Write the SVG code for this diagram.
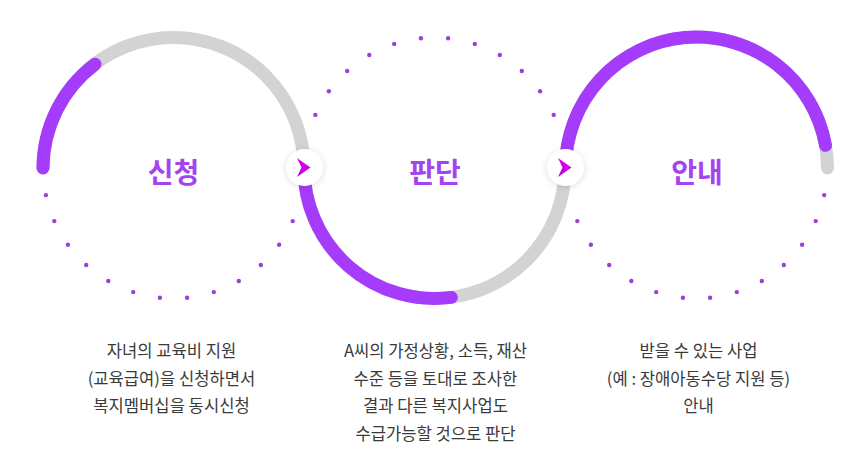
<svg xmlns="http://www.w3.org/2000/svg" width="855" height="468" viewBox="0 0 855 468">
<style>
.gray{fill:none;stroke:#d3d3d5;stroke-width:13;stroke-linecap:round}
.pur{fill:none;stroke:#a53bfb;stroke-width:13;stroke-linecap:round}
.dot{fill:#9b3fd8}
.title{font-family:"Noto Sans CJK KR","Noto Sans",sans-serif;font-size:28px;font-weight:700;fill:#a245f0;text-anchor:middle}
.desc{font-family:"Noto Sans CJK KR","Noto Sans",sans-serif;font-size:16.6px;fill:#3a3a3a;text-anchor:middle}
.btn{fill:#fff;filter:url(#sh)}
.arr{fill:url(#ag)}
</style>
<defs>
<filter id="sh" x="-50%" y="-50%" width="200%" height="200%">
<feDropShadow dx="0" dy="1" stdDeviation="3" flood-color="#000" flood-opacity="0.15"/>
</filter>
<linearGradient id="ag" x1="0" y1="0" x2="0" y2="1">
<stop offset="0" stop-color="#e800e8"/>
<stop offset="1" stop-color="#b400e6"/>
</linearGradient>
</defs>
<g id="dots">
<g id="dots1">
<circle class="dot" cx="292.7" cy="221.1" r="2.2"/><circle class="dot" cx="279.1" cy="244.7" r="2.2"/><circle class="dot" cx="260.8" cy="265" r="2.2"/><circle class="dot" cx="238.8" cy="281" r="2.2"/><circle class="dot" cx="213.8" cy="292.1" r="2.2"/><circle class="dot" cx="187.1" cy="297.8" r="2.2"/><circle class="dot" cx="159.9" cy="297.8" r="2.2"/><circle class="dot" cx="133.2" cy="292.1" r="2.2"/><circle class="dot" cx="108.3" cy="281" r="2.2"/><circle class="dot" cx="86.2" cy="265" r="2.2"/><circle class="dot" cx="67.9" cy="244.7" r="2.2"/><circle class="dot" cx="54.3" cy="221.1" r="2.2"/><circle class="dot" cx="45.9" cy="195.1" r="2.2"/>
</g>
<g id="dots2">
<circle class="dot" cx="553.7" cy="114.9" r="2.2"/><circle class="dot" cx="540.1" cy="91.3" r="2.2"/><circle class="dot" cx="521.8" cy="71" r="2.2"/><circle class="dot" cx="499.8" cy="55" r="2.2"/><circle class="dot" cx="474.8" cy="43.9" r="2.2"/><circle class="dot" cx="448.1" cy="38.2" r="2.2"/><circle class="dot" cx="420.9" cy="38.2" r="2.2"/><circle class="dot" cx="394.2" cy="43.9" r="2.2"/><circle class="dot" cx="369.3" cy="55" r="2.2"/><circle class="dot" cx="347.2" cy="71" r="2.2"/><circle class="dot" cx="328.9" cy="91.3" r="2.2"/><circle class="dot" cx="315.3" cy="114.9" r="2.2"/>
</g>
<g id="dots3">
<circle class="dot" cx="824.2" cy="195.1" r="2.2"/><circle class="dot" cx="815.7" cy="221.1" r="2.2"/><circle class="dot" cx="802.1" cy="244.7" r="2.2"/><circle class="dot" cx="783.8" cy="265" r="2.2"/><circle class="dot" cx="761.8" cy="281" r="2.2"/><circle class="dot" cx="736.8" cy="292.1" r="2.2"/><circle class="dot" cx="710.1" cy="297.8" r="2.2"/><circle class="dot" cx="682.9" cy="297.8" r="2.2"/><circle class="dot" cx="656.2" cy="292.1" r="2.2"/><circle class="dot" cx="631.3" cy="281" r="2.2"/><circle class="dot" cx="609.2" cy="265" r="2.2"/><circle class="dot" cx="590.9" cy="244.7" r="2.2"/><circle class="dot" cx="577.3" cy="221.1" r="2.2"/>
</g>
</g>
<g id="connectors">
<path class="gray" d="M 43 168 A 130.5 130.5 0 0 1 304 168"/>
<path class="pur" d="M 43 168 A 130.5 130.5 0 0 1 95 64.2"/>
<path class="gray" d="M 304 168 A 130.5 130.5 0 0 0 565 168"/>
<path class="pur" d="M 304 168 A 130.5 130.5 0 0 0 451.3 297.4"/>
<path class="gray" d="M 565.5 168 A 131 131 0 0 1 827.5 168"/>
<path class="pur" d="M 565.5 168 A 131 131 0 0 1 825.5 145.3"/>
</g>
<g id="step1">
<text class="title" x="173.5" y="183">신청</text>
<text class="desc" x="171.5" y="356.5">자녀의 교육비 지원</text>
<text class="desc" x="171.5" y="384.5">(교육급여)을 신청하면서</text>
<text class="desc" x="171.5" y="412">복지멤버십을 동시신청</text>
</g>
<g id="step2">
<text class="title" x="435" y="183">판단</text>
<text class="desc" x="435.5" y="356.5">A씨의 가정상황, 소득, 재산</text>
<text class="desc" x="435.5" y="384.5">수준 등을 토대로 조사한</text>
<text class="desc" x="435.5" y="412">결과 다른 복지사업도</text>
<text class="desc" x="435.5" y="439.5">수급가능할 것으로 판단</text>
</g>
<g id="step3">
<text class="title" x="697" y="183">안내</text>
<text class="desc" x="698.5" y="356.5">받을 수 있는 사업</text>
<text class="desc" x="698.5" y="384.5">(예 : 장애아동수당 지원 등)</text>
<text class="desc" x="698.5" y="412">안내</text>
</g>
<g id="arrow1">
<circle class="btn" cx="304.5" cy="167.5" r="18.5"/>
<path class="arr" d="M 297 158 L 310.5 167.5 L 297 177 L 301.5 167.5 Z"/>
</g>
<g id="arrow2">
<circle class="btn" cx="565.5" cy="167.5" r="18.5"/>
<path class="arr" d="M 558 158 L 571.5 167.5 L 558 177 L 562.5 167.5 Z"/>
</g>
</svg>
